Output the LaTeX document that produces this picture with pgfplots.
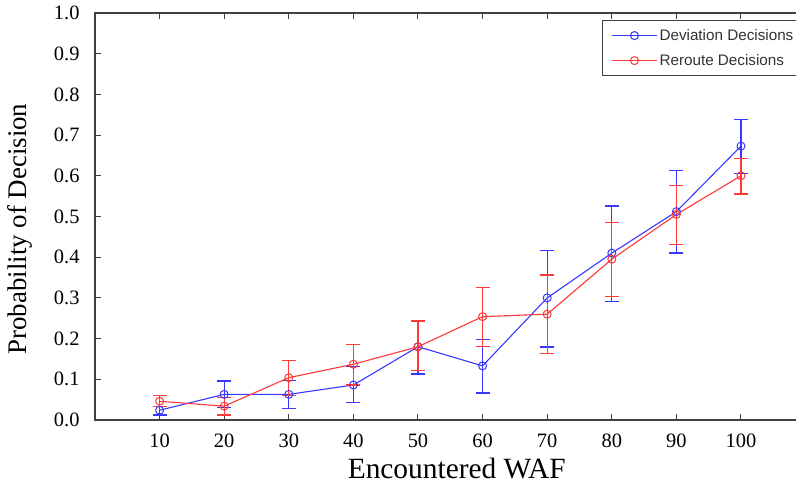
\documentclass[border=0pt]{standalone}
\usepackage{fontspec}
\setmainfont{Liberation Serif}
\newfontfamily\legendfont{Liberation Sans}
\usepackage{pgfplots}
\usepackage{pgfplotstable}
\pgfplotsset{compat=1.18}
\definecolor{axgray}{HTML}{404040}
\definecolor{myblue}{HTML}{3838FF}
\definecolor{myred}{HTML}{FF3838}
\pgfplotstableread{
x y ep em
10 0.024 0.009 0.012
20 0.063 0.033 0.033
30 0.063 0.034 0.034
40 0.086 0.045 0.043
50 0.180 0.064 0.067
60 0.133 0.065 0.067
70 0.300 0.116 0.121
80 0.410 0.116 0.118
90 0.512 0.101 0.102
100 0.673 0.066 0.068
}\devtable
\pgfplotstableread{
x y ep em
10 0.046 0.014 0.013
20 0.034 0.022 0.022
30 0.104 0.043 0.044
40 0.137 0.049 0.051
50 0.180 0.063 0.059
60 0.254 0.072 0.074
70 0.260 0.096 0.097
80 0.395 0.090 0.092
90 0.505 0.072 0.073
100 0.600 0.043 0.045
}\rertable
\begin{document}
\begin{tikzpicture}
\begin{axis}[
  name=ax,
  scale only axis,
  width=723.5bp, height=407bp,
  xmin=0, xmax=112, ymin=0, ymax=1,
  xtick={10,20,...,100},
  ytick={0,0.1,...,1.0},
  /pgf/number format/assume math mode=true,
  tick align=inside,
  major tick length=6bp,
  axis line style={axgray, line width=1.3bp},
  every tick/.style={axgray, line width=1bp},
  tick label style={font=\fontsize{20.5}{24}\selectfont},
  xticklabel style={yshift=-13bp, inner ysep=1bp},
  yticklabel style={xshift=-12bp, /pgf/number format/.cd, fixed, fixed zerofill, precision=1},
  xlabel={Encountered WAF},
  ylabel={Probability of Decision},
  x label style={font=\fontsize{29.5}{32}\selectfont, inner ysep=1bp, at={(axis description cs:0.5,-0.1180)}, anchor=center},
  y label style={font=\fontsize{27}{30}\selectfont, at={(axis description cs:-0.1040,0.469)}, anchor=center},
  legend style={at={(axis description cs:0.7008,0.983)}, anchor=north west,
    draw=axgray, line width=0.8bp, font=\legendfont\fontsize{15.3}{18}\selectfont,
    text=black!80, inner xsep=9bp, inner ysep=7bp, row sep=8.5bp},
  legend cell align=left,
  legend image code/.code={\draw[mark repeat=2,mark phase=2,#1] plot coordinates {(0bp,0bp) (22.5bp,0bp) (45bp,0bp)};},
]
\addplot[myblue, line width=1.1bp, mark=o, mark size=4bp, mark options={line width=1bp},
  error bars/.cd, y dir=both, y explicit,
  error bar style={line width=1.3bp, myblue},
  error mark options={rotate=90, mark size=7bp, line width=1.3bp, myblue}]
  table[x=x, y=y, y error plus=ep, y error minus=em] {\devtable};
\addlegendentry{Deviation Decisions\hspace*{30bp}}
\addplot[myred, line width=1.1bp, mark=o, mark size=4bp, mark options={line width=1bp},
  error bars/.cd, y dir=both, y explicit,
  error bar style={line width=1.3bp, myred},
  error mark options={rotate=90, mark size=7bp, line width=1.3bp, myred}]
  table[x=x, y=y, y error plus=ep, y error minus=em] {\rertable};
\addlegendentry{Reroute Decisions}
\end{axis}
\pgfresetboundingbox
\path[use as bounding box] ([xshift=-95bp,yshift=-70bp]ax.south west) rectangle ([xshift=701bp,yshift=420bp]ax.south west);
\end{tikzpicture}
\end{document}
